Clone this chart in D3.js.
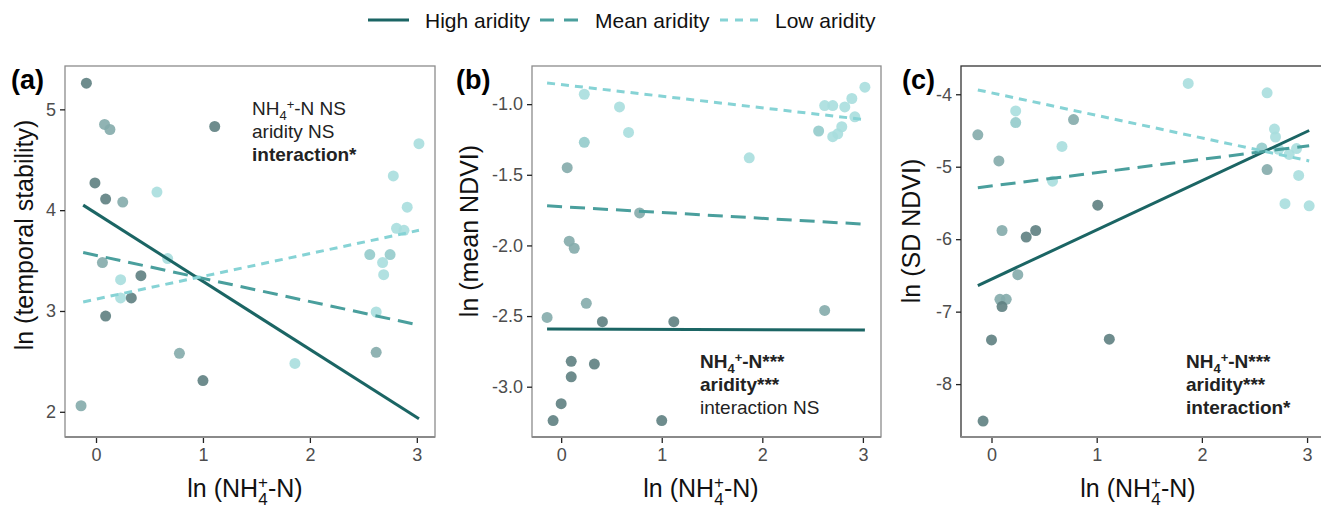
<!DOCTYPE html>
<html>
<head>
<meta charset="utf-8">
<script src="https://cdn.jsdelivr.net/npm/d3@7"></script>
<style>
  body { margin: 0; background: #fff; }
  text { font-family: "Liberation Sans", Arial, sans-serif; }
</style>
</head>
<body>
<svg id="chart" width="1321" height="508"></svg>
<script>
// ---- data ----
// groups: h = high aridity, m = mean, lm = light-mean, l = low aridity
const aX = [-0.09, 0.08, 0.13, 1.11, -0.01, 0.09, 0.25, 0.57, 0.06, 0.67, 0.23, 0.42, 0.23, 0.33, 0.09, 0.78, 1.00, 1.86, -0.14, 3.02, 2.78, 2.91, 2.81, 2.88, 2.56, 2.75, 2.68, 2.69, 2.62, 2.62];
const aY = [5.26, 4.85, 4.80, 4.83, 4.27, 4.11, 4.08, 4.18, 3.48, 3.52, 3.31, 3.35, 3.13, 3.13, 2.95, 2.58, 2.31, 2.48, 2.06, 4.66, 4.34, 4.03, 3.82, 3.80, 3.56, 3.56, 3.48, 3.36, 2.99, 2.59];
const aGrp = ["h", "m", "m", "h", "h", "h", "m", "l", "m", "l", "l", "h", "l", "h", "h", "m", "h", "l", "m", "l", "l", "l", "l", "l", "lm", "lm", "l", "l", "l", "m"];

const bX = [0.23, 0.58, 0.67, 0.23, 0.06, 1.87, 0.78, 0.08, 0.13, 0.25, -0.14, 0.41, 1.12, 2.62, 0.10, 0.33, 0.10, 0.00, -0.08, 1.00, 3.02, 2.89, 2.62, 2.70, 2.82, 2.92, 2.56, 2.70, 2.75, 2.79];
const bY = [-0.93, -1.02, -1.20, -1.27, -1.45, -1.38, -1.77, -1.97, -2.02, -2.41, -2.51, -2.54, -2.54, -2.46, -2.82, -2.84, -2.93, -3.12, -3.24, -3.24, -0.88, -0.96, -1.01, -1.01, -1.02, -1.09, -1.19, -1.23, -1.21, -1.16];
const bGrp = ["l", "l", "l", "lm", "m", "l", "m", "m", "m", "m", "m", "h", "h", "m", "h", "h", "h", "h", "h", "h", "l", "l", "l", "l", "l", "l", "lm", "l", "l", "l"];

const cX = [1.87, 2.62, 0.23, 0.23, 0.78, -0.13, 0.67, 0.07, 0.58, 1.01, 0.10, 0.42, 0.33, 0.25, 0.08, 0.14, 0.10, 0.00, 1.12, -0.08, 2.69, 2.70, 2.57, 2.73, 2.83, 2.90, 2.62, 2.92, 2.79, 3.02];
const cY = [-3.85, -3.98, -4.23, -4.39, -4.35, -4.56, -4.72, -4.92, -5.20, -5.53, -5.88, -5.88, -5.97, -6.49, -6.83, -6.83, -6.93, -7.39, -7.38, -8.51, -4.48, -4.59, -4.74, -4.76, -4.83, -4.75, -5.04, -5.12, -5.51, -5.54];
const cGrp = ["l", "l", "l", "lm", "m", "m", "l", "m", "l", "h", "m", "h", "h", "m", "m", "m", "h", "h", "h", "h", "l", "l", "lm", "l", "l", "l", "m", "l", "l", "l"];

// fitted lines: [start, end] in x and y, per aridity level
const aLineX = [-0.12, 3.02];
const aHigh = [4.05, 1.93], aMean = [3.58, 2.86], aLow = [3.09, 3.80];
const bLineX = [-0.14, 3.02];
const bHigh = [-2.592, -2.598], bMean = [-1.72, -1.85], bLow = [-0.85, -1.11];
const cLineX = [-0.13, 3.02];
const cHigh = [-6.64, -4.50], cMean = [-5.29, -4.71], cLow = [-3.94, -4.92];

const xTicks = [0, 1, 2, 3];
const aTicks = [2, 3, 4, 5];
const bTicks = [-3.0, -2.5, -2.0, -1.5, -1.0];
const cTicks = [-8, -7, -6, -5, -4];

const legendLabels = ["High aridity", "Mean aridity", "Low aridity"];

// ---- styles ----
const ptColor = { h: "#5e8081", m: "#84abab", lm: "#93cbcb", l: "#a8dede" };
const lineStyle = [
  { color: "#1b6564", dash: null },
  { color: "#4a9f9d", dash: "15,8" },
  { color: "#86d3d5", dash: "8,6" }
];

const svg = d3.select("#chart");

// legend
const legX = [368, 540, 720];
const legTextX = [425, 595, 775];
legendLabels.forEach((lab, i) => {
  const st = lineStyle[i];
  svg.append("line")
    .attr("x1", legX[i]).attr("x2", legX[i] + (i === 0 ? 41 : 38))
    .attr("y1", 20).attr("y2", 20)
    .attr("stroke", st.color).attr("stroke-width", 3.2)
    .attr("stroke-dasharray", i === 1 ? "14,10" : (i === 2 ? "8,7" : null));
  svg.append("text")
    .attr("x", legTextX[i]).attr("y", 28)
    .attr("font-size", 21).attr("fill", "#111")
    .text(lab);
});

function panel(cfg) {
  const x = d3.scaleLinear().domain(cfg.xDom).range([cfg.left, cfg.right]);
  const y = d3.scaleLinear().domain(cfg.yDom).range([437, 66]);
  const g = svg.append("g");

  // frame
  g.append("rect")
    .attr("x", cfg.left).attr("y", 66)
    .attr("width", cfg.right - cfg.left).attr("height", 437 - 66)
    .attr("fill", "none").attr("stroke", cfg.frame).attr("stroke-width", 1.3);
  g.append("line")
    .attr("x1", cfg.left).attr("x2", cfg.right).attr("y1", 437).attr("y2", 437)
    .attr("stroke", "#8a8a8a").attr("stroke-width", 2);

  // axes
  const xa = g.append("g").attr("transform", "translate(0,438)")
    .call(d3.axisBottom(x).tickValues(xTicks).tickSize(5).tickPadding(5).tickFormat(d3.format("d")));
  const ya = g.append("g").attr("transform", `translate(${cfg.left},0)`)
    .call(d3.axisLeft(y).tickValues(cfg.yTicks).tickSize(5).tickPadding(4).tickFormat(cfg.fmt));
  [xa, ya].forEach(ax => {
    ax.select(".domain").remove();
    ax.selectAll("line").attr("stroke", "#222").attr("stroke-width", 1.3);
    ax.selectAll("text").attr("font-size", 18).attr("fill", "#4d4d4d")
      .style("font-family", "'Liberation Sans', Arial, sans-serif");
  });

  // points
  g.selectAll("circle.pt").data(cfg.px.map((v, i) => ({ x: v, y: cfg.py[i], g: cfg.grp[i] })))
    .enter().append("circle")
    .attr("class", "pt")
    .attr("cx", d => x(d.x)).attr("cy", d => y(d.y)).attr("r", 5.5)
    .attr("fill", d => ptColor[d.g]).attr("fill-opacity", 0.9);

  // fitted lines
  const line = d3.line().x(d => x(d[0])).y(d => y(d[1]));
  cfg.lines.forEach((ys, i) => {
    g.append("path")
      .datum([[cfg.lineX[0], ys[0]], [cfg.lineX[1], ys[1]]])
      .attr("d", line)
      .attr("fill", "none")
      .attr("stroke", lineStyle[i].color)
      .attr("stroke-width", 3)
      .attr("stroke-dasharray", lineStyle[i].dash);
  });

  // panel tag
  svg.append("text")
    .attr("x", cfg.tagX).attr("y", 89)
    .attr("font-size", 27).attr("font-weight", "bold").attr("fill", "#000")
    .text(cfg.tag);

  // y title
  svg.append("text")
    .attr("transform", `translate(${cfg.yTitleX},${cfg.yTitleY}) rotate(-90)`)
    .attr("text-anchor", "middle")
    .attr("font-size", 25).attr("fill", "#111")
    .text(cfg.yTitle);

  // x title: ln (NH4+-N) with stacked sub/superscript
  const xt = svg.append("text")
    .attr("x", cfg.xTitleX).attr("y", 497)
    .attr("text-anchor", "middle")
    .attr("font-size", 25).attr("fill", "#111");
  xt.append("tspan").text("ln (NH");
  xt.append("tspan").attr("font-size", 17).attr("dy", 8).text("4");
  xt.append("tspan").attr("font-size", 17).attr("dx", -9.6).attr("dy", -17).text("+");
  xt.append("tspan").attr("dy", 9).text("-N)");

  // significance annotation
  cfg.notes.forEach((n, i) => {
    const t = svg.append("text")
      .attr("x", cfg.noteX).attr("y", cfg.noteY + i * 23)
      .attr("font-size", 19).attr("fill", "#222")
      .attr("font-weight", n.bold ? "bold" : "normal");
    if (n.nh) {
      t.append("tspan").text("NH");
      t.append("tspan").attr("font-size", 13).attr("dy", 5).text("4");
      t.append("tspan").attr("font-size", 13).attr("dy", -11).text("+");
      t.append("tspan").attr("dy", 6).text(n.text);
    } else {
      t.text(n.text);
    }
  });
}

panel({
  left: 65, right: 435, xDom: [-0.29, 3.17], yDom: [1.75, 5.43],
  yTicks: aTicks, fmt: d3.format("d"), frame: "#8c8c8c",
  px: aX, py: aY, grp: aGrp,
  lineX: aLineX, lines: [aHigh, aMean, aLow],
  tag: "(a)", tagX: 11, yTitle: "ln (temporal stability)", yTitleX: 33, yTitleY: 235, xTitleX: 245,
  noteX: 252, noteY: 115,
  notes: [{ nh: true, text: "-N NS" }, { text: "aridity NS" }, { text: "interaction*", bold: true }]
});

panel({
  left: 532, right: 881, xDom: [-0.29, 3.18], yDom: [-3.356, -0.73],
  yTicks: bTicks, fmt: d => d.toFixed(1), frame: "#8c8c8c",
  px: bX, py: bY, grp: bGrp,
  lineX: bLineX, lines: [bHigh, bMean, bLow],
  tag: "(b)", tagX: 456, yTitle: "ln (mean NDVI)", yTitleX: 478, yTitleY: 231, xTitleX: 701,
  noteX: 700, noteY: 368,
  notes: [{ nh: true, text: "-N***", bold: true }, { text: "aridity***", bold: true }, { text: "interaction NS" }]
});

panel({
  left: 961, right: 1326, xDom: [-0.29, 3.18], yDom: [-8.73, -3.61],
  yTicks: cTicks, fmt: d => String(d), frame: "#333",
  px: cX, py: cY, grp: cGrp,
  lineX: cLineX, lines: [cHigh, cMean, cLow],
  tag: "(c)", tagX: 902, yTitle: "ln (SD NDVI)", yTitleX: 920, yTitleY: 231, xTitleX: 1138,
  noteX: 1186, noteY: 368,
  notes: [{ nh: true, text: "-N***", bold: true }, { text: "aridity***", bold: true }, { text: "interaction*", bold: true }]
});
</script>
</body>
</html>
